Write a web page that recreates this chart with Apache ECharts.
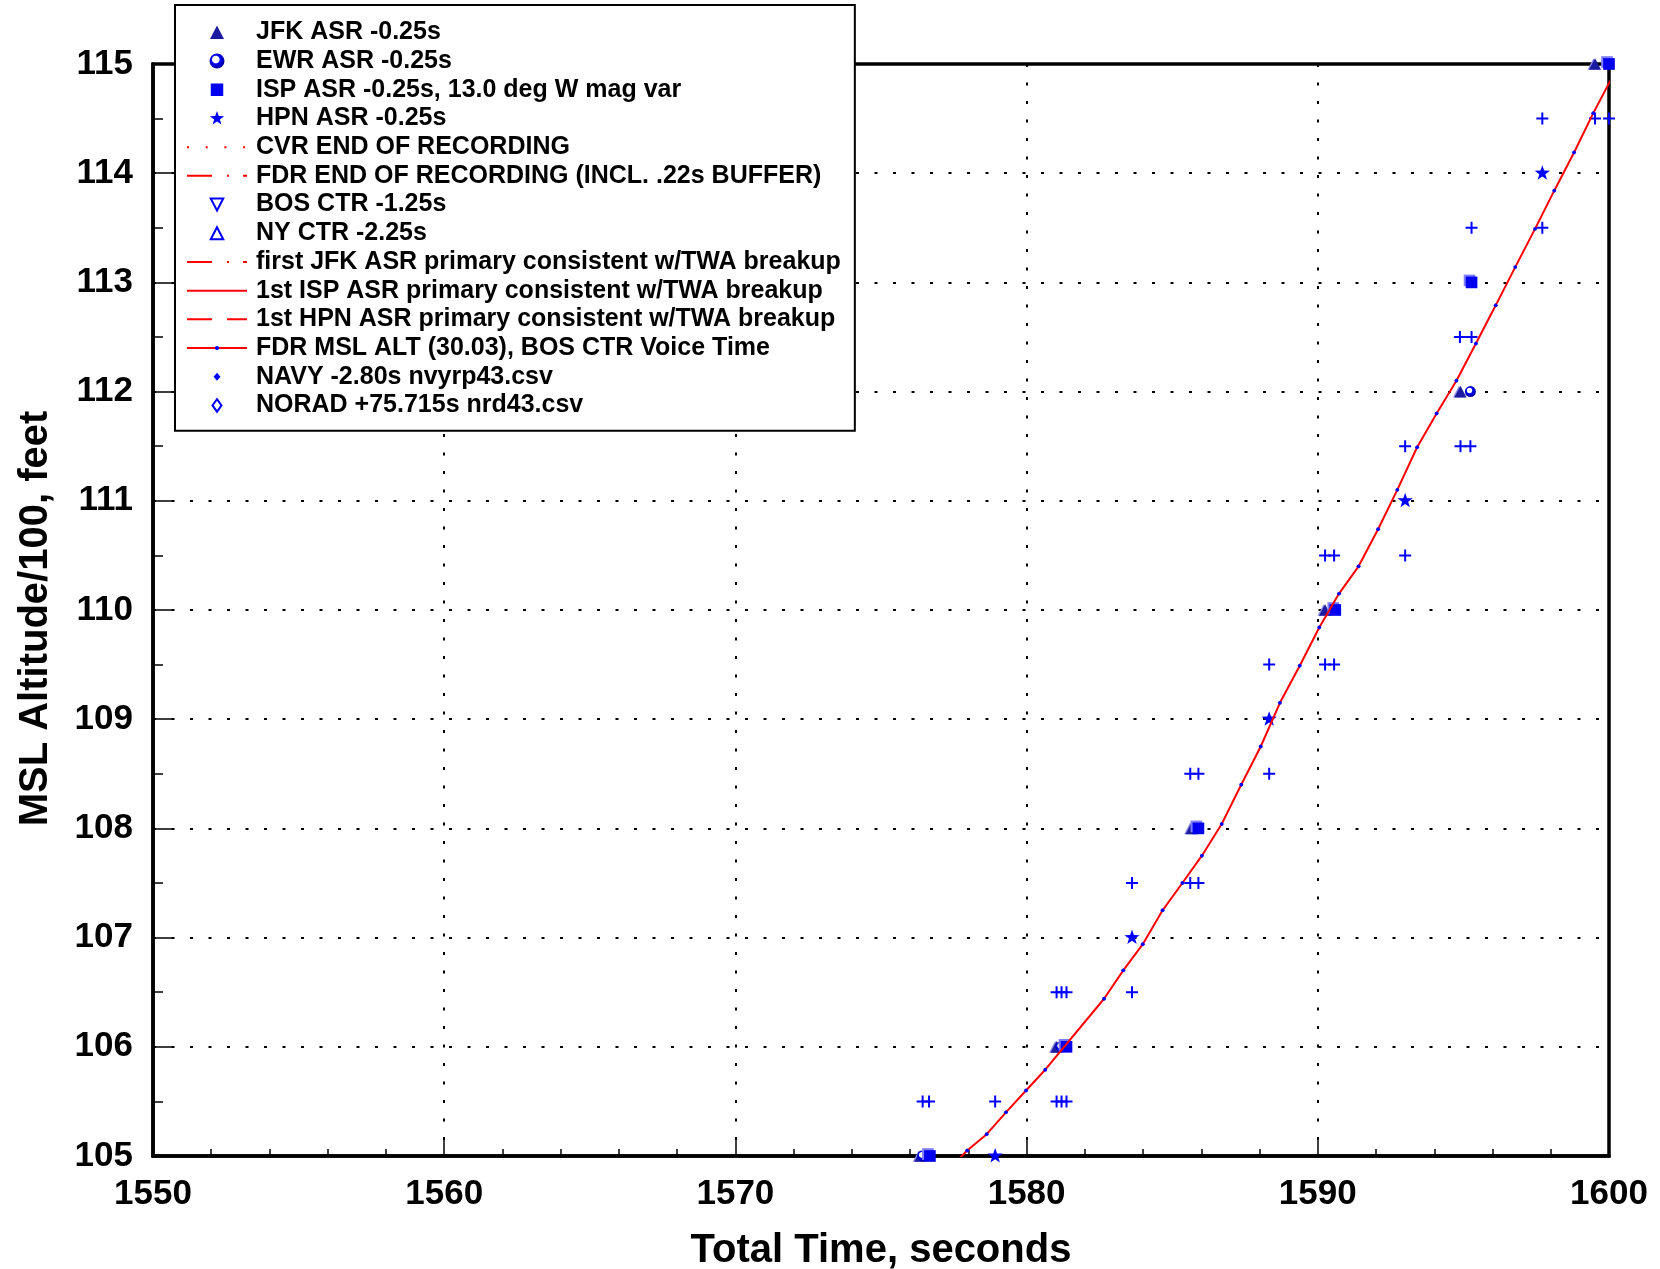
<!DOCTYPE html>
<html>
<head>
<meta charset="utf-8">
<script src="https://cdn.jsdelivr.net/npm/echarts@6/dist/echarts.min.js"></script>
<style>
  html, body { margin: 0; padding: 0; background: #fff; }
  #chart { width: 1660px; height: 1269px; }
</style>
</head>
<body>
<div id="chart"></div>
<script>
// ---- Axis setup ----
const xTicks = [1550, 1560, 1570, 1580, 1590, 1600];
const yTicks = [105, 106, 107, 108, 109, 110, 111, 112, 113, 114, 115];

// ---- FDR MSL altitude (hundreds of feet) vs total time (s) ----
const fdrTime = [1577.29, 1577.96, 1578.63, 1579.29, 1579.98, 1580.64, 1582.66, 1583.32, 1583.99,
  1584.67, 1585.35, 1586.02, 1586.70, 1587.37, 1588.04, 1588.70, 1589.38, 1590.05, 1590.73,
  1591.40, 1592.07, 1592.73, 1593.41, 1594.08, 1594.76, 1595.43, 1596.11, 1596.78, 1597.46,
  1598.12, 1598.80, 1599.46, 1600.13];
const fdrAlt = [104.87, 105.05, 105.20, 105.40, 105.60, 105.79, 106.44, 106.70, 106.94,
  107.25, 107.50, 107.75, 108.04, 108.40, 108.75, 109.15, 109.49, 109.84, 110.15,
  110.40, 110.74, 111.10, 111.49, 111.80, 112.10, 112.44, 112.79, 113.14, 113.49,
  113.84, 114.19, 114.55, 114.89];

// ---- Radar Mode C returns ----
const jfkTime = [1576.35, 1581.03, 1585.67, 1590.25, 1594.90, 1599.52];
const jfkAlt  = [105, 106, 108, 110, 112, 115];
const ewrTime = [1576.43, 1581.18, 1595.24];
const ewrAlt  = [105, 106, 112];
const ispTime = [1576.68, 1581.37, 1585.90, 1590.60, 1595.28, 1600.00];
const ispAlt  = [105, 106, 108, 110, 113, 115];
const hpnTime = [1578.92, 1583.62, 1588.33, 1593.00, 1597.71];
const hpnAlt  = [105, 107, 109, 111, 114];

// Mode C quantisation limits (+/- 50 ft) for the radar returns
const boundTime = [1576.43, 1576.65, 1578.92, 1581.03, 1581.20, 1581.37,
  1581.03, 1581.20, 1581.37, 1583.62,
  1583.62, 1585.62, 1585.90,
  1585.62, 1585.90, 1588.33,
  1588.33, 1590.25, 1590.56,
  1590.25, 1590.56, 1593.00,
  1593.00, 1594.90, 1595.24,
  1594.88, 1595.28,
  1595.28, 1597.71,
  1597.71, 1599.52, 1600.00];
const boundAlt = [105.5, 105.5, 105.5, 105.5, 105.5, 105.5,
  106.5, 106.5, 106.5, 106.5,
  107.5, 107.5, 107.5,
  108.5, 108.5, 108.5,
  109.5, 109.5, 109.5,
  110.5, 110.5, 110.5,
  111.5, 111.5, 111.5,
  112.5, 112.5,
  113.5, 113.5,
  114.5, 114.5, 114.5];

// Sources that fall outside this time window
const bosCtr = [];
const nyCtr = [];
const navy = [];
const norad = [];
const cvrEnd = [];
const fdrEnd = [];
const jfkPrimary = [];
const ispPrimary = [];
const hpnPrimary = [];

const pairs = (xs, ys) => xs.map((x, i) => [x, ys[i]]);

// ---- Marker shapes (square 12x12 frames so legend icons keep their size) ----
const PAD = 'M0,0M12,12';
const SYM = {
  triUp:   'path://' + PAD + 'M6,0.6L11.6,11.4L0.4,11.4Z',
  triDown: 'path://' + PAD + 'M1,1.2H11L6,10.8Z',
  triOpen: 'path://' + PAD + 'M6,1.2L11,10.8H1Z',
  square:  'path://' + PAD + 'M1,1H11V11H1Z',
  star:    'path://' + PAD + 'M6,0L7.411,4.058L11.706,4.146L8.283,6.742L9.527,10.854L6,8.4L2.473,10.854L3.717,6.742L0.294,4.146L4.589,4.058Z',
  diamond: 'path://' + PAD + 'M6,2.8L8.8,6L6,9.2L3.2,6Z',
  diamondOpen: 'path://' + PAD + 'M6,1L9.6,6L6,11L2.4,6Z',
  plus:    'path://M5,0H7V5H12V7H7V12H5V7H0V5H5Z',
  dot:     'path://M0,0M10,10M6.8,5L6.27,6.27L5,6.8L3.73,6.27L3.2,5L3.73,3.73L5,3.2L6.27,3.73Z'
};

const BLUE = '#0000ff';
const RED = '#ff0000';
const FONT = 'Liberation Sans, Arial, Helvetica, sans-serif';

const legendNames = [
  'JFK ASR -0.25s',
  'EWR ASR -0.25s',
  'ISP ASR -0.25s, 13.0 deg W mag var',
  'HPN ASR -0.25s',
  'CVR END OF RECORDING',
  'FDR END OF RECORDING (INCL. .22s BUFFER)',
  'BOS CTR -1.25s',
  'NY CTR -2.25s',
  'first JFK ASR primary consistent w/TWA breakup',
  '1st ISP ASR primary consistent w/TWA breakup',
  '1st HPN ASR primary consistent w/TWA breakup',
  'FDR MSL ALT (30.03), BOS CTR Voice Time',
  'NAVY -2.80s nvyrp43.csv',
  'NORAD +75.715s nrd43.csv'
];
const lineOnly = new Set([4, 5, 8, 9, 10]);

const chart = echarts.init(document.getElementById('chart'));

function refLine(name, data, dash) {
  return {
    name, type: 'line', data, symbol: 'none', showSymbol: false,
    lineStyle: { color: RED, width: 2, type: dash },
    itemStyle: { color: RED }
  };
}

const sphere = {
  type: 'radial', x: 0.42, y: 0.4, r: 0.6,
  colorStops: [
    { offset: 0, color: '#ffffff' }, { offset: 0.36, color: '#ffffff' },
    { offset: 0.48, color: '#0000f0' }, { offset: 1, color: '#0000a0' }
  ]
};

chart.setOption({
  animation: false,
  backgroundColor: '#fff',
  textStyle: { fontFamily: FONT, fontWeight: 'bold', color: '#000' },
  grid: {
    left: 153, right: 51, top: 64, bottom: 113,
    containLabel: false, outerBoundsMode: 'none',
    show: true, borderColor: '#000', borderWidth: 3.5, backgroundColor: 'transparent'
  },
  legend: {
    left: 175, top: 5,
    orient: 'vertical',
    padding: [13, 14, 11, 11],
    backgroundColor: '#fff',
    borderColor: '#000',
    borderWidth: 2,
    itemWidth: 60,
    itemHeight: 15,
    itemGap: 0,
    selectedMode: false,
    textStyle: {
      fontFamily: FONT, fontWeight: 'bold', fontSize: 25, color: '#000',
      lineHeight: 28.7, padding: [0, 0, 0, 4]
    },
    data: legendNames.map((n, i) => lineOnly.has(i) ? { name: n, itemStyle: { opacity: 0 } } : { name: n })
  },
  xAxis: {
    type: 'value', min: 1550, max: 1600, interval: 10,
    name: 'Total Time, seconds', nameLocation: 'middle', nameGap: 75,
    nameTextStyle: { fontFamily: FONT, fontWeight: 'bold', fontSize: 40, color: '#000' },
    axisLine: { show: true, onZero: false, lineStyle: { color: '#000', width: 3.5 } },
    axisTick: { show: true, inside: true, length: 17, lineStyle: { color: '#000', width: 1.5 } },
    minorTick: { show: true, splitNumber: 5, length: 7, lineStyle: { color: '#000', width: 1.5 } },
    axisLabel: {
      margin: 21, fontFamily: FONT, fontWeight: 'bold', fontSize: 35, color: '#000',
      formatter: v => xTicks.includes(v) ? String(v) : ''
    },
    splitLine: { show: true, lineStyle: { color: '#000', width: 2, type: [3, 15.5] } }
  },
  yAxis: {
    type: 'value', min: 105, max: 115, interval: 1,
    name: 'MSL Altitude/100, feet', nameLocation: 'middle', nameGap: 97, nameRotate: 90,
    nameTextStyle: { fontFamily: FONT, fontWeight: 'bold', fontSize: 40, color: '#000', padding: [0, 17, 0, 0] },
    axisLine: { show: true, onZero: false, lineStyle: { color: '#000', width: 3.5 } },
    axisTick: { show: true, inside: true, length: 21, lineStyle: { color: '#000', width: 1.5 } },
    minorTick: { show: true, splitNumber: 2, length: 10, lineStyle: { color: '#000', width: 1.5 } },
    axisLabel: {
      margin: 20, fontFamily: FONT, fontWeight: 'bold', fontSize: 35, color: '#000',
      formatter: v => yTicks.includes(v) ? String(v) : ''
    },
    splitLine: { show: true, lineStyle: { color: '#000', width: 2, type: [3, 15.5] } }
  },
  series: [
    {
      name: 'Mode C limits', type: 'scatter', data: pairs(boundTime, boundAlt),
      symbol: SYM.plus, symbolSize: 12, clip: true,
      itemStyle: { color: BLUE, opacity: 1 }, z: 3
    },
    {
      name: legendNames[0], type: 'scatter', data: pairs(jfkTime, jfkAlt),
      symbol: SYM.triUp, symbolSize: 13, clip: false,
      itemStyle: { color: '#1c1ca0', opacity: 1, shadowColor: '#8a8ae6', shadowOffsetX: -1.5, shadowOffsetY: 0, shadowBlur: 0 }, z: 4
    },
    {
      name: legendNames[1], type: 'scatter', data: pairs(ewrTime, ewrAlt),
      symbol: 'circle', symbolSize: 11, clip: false,
      itemStyle: { color: sphere, opacity: 1 }, z: 4
    },
    {
      name: legendNames[2], type: 'scatter', data: pairs(ispTime, ispAlt),
      symbol: SYM.square, symbolSize: 14, clip: false,
      itemStyle: { color: '#0000ee', opacity: 1, shadowColor: '#8080ff', shadowOffsetX: -2, shadowOffsetY: -2, shadowBlur: 0 }, z: 4
    },
    {
      name: legendNames[3], type: 'scatter', data: pairs(hpnTime, hpnAlt),
      symbol: SYM.star, symbolSize: 16, clip: false,
      itemStyle: { color: BLUE, opacity: 1 }, z: 4
    },
    refLine(legendNames[4], cvrEnd, [2, 16.7]),
    refLine(legendNames[5], fdrEnd, [25, 15, 2, 14]),
    {
      name: legendNames[6], type: 'scatter', data: bosCtr,
      symbol: SYM.triDown, symbolSize: 12,
      itemStyle: { color: '#fff', opacity: 1, borderColor: BLUE, borderWidth: 1.5 }
    },
    {
      name: legendNames[7], type: 'scatter', data: nyCtr,
      symbol: SYM.triOpen, symbolSize: 12,
      itemStyle: { color: '#fff', opacity: 1, borderColor: BLUE, borderWidth: 1.5 }
    },
    refLine(legendNames[8], jfkPrimary, [25, 15, 2, 14]),
    refLine(legendNames[9], ispPrimary, 'solid'),
    refLine(legendNames[10], hpnPrimary, [25, 15, 20, 0]),
    {
      name: legendNames[11], type: 'line', data: pairs(fdrTime, fdrAlt),
      symbol: SYM.dot, symbolSize: 11, showSymbol: true, showAllSymbol: true, clip: true,
      lineStyle: { color: RED, width: 2 },
      itemStyle: { color: BLUE, opacity: 1 }, z: 5
    },
    {
      name: legendNames[12], type: 'scatter', data: navy,
      symbol: SYM.diamond, symbolSize: 12,
      itemStyle: { color: BLUE, opacity: 1 }
    },
    {
      name: legendNames[13], type: 'scatter', data: norad,
      symbol: SYM.diamondOpen, symbolSize: 12,
      itemStyle: { color: '#fff', opacity: 1, borderColor: BLUE, borderWidth: 1.5 }
    }
  ]
});
</script>
</body>
</html>
